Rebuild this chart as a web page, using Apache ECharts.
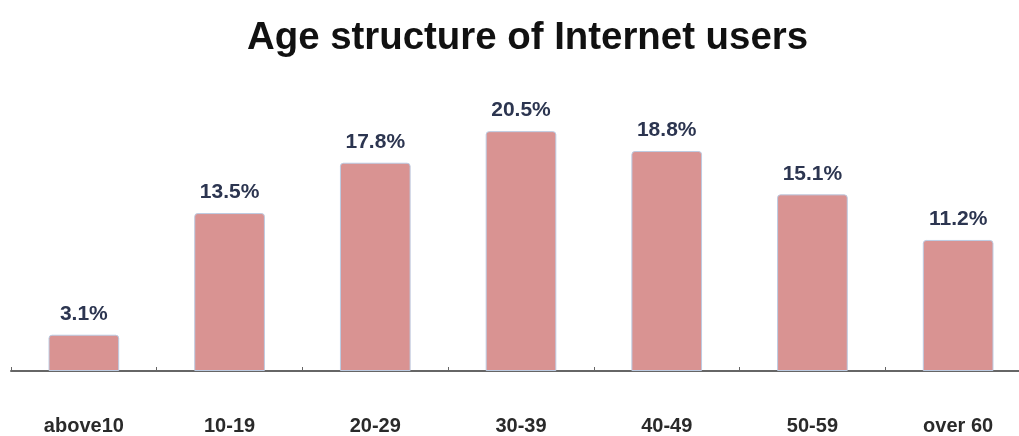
<!DOCTYPE html>
<html><head><meta charset="utf-8">
<script src="https://cdn.jsdelivr.net/npm/echarts@6/dist/echarts.min.js"></script>
<style>html,body{margin:0;padding:0;background:#fff;overflow:hidden;width:1019px;height:436px}#c{width:1040px;height:436px}</style>
</head><body><div id="c"></div>
<script>
const categories = ['above10','10-19','20-29','30-39','40-49','50-59','over 60'];
const values = [3.1, 13.5, 17.8, 20.5, 18.8, 15.1, 11.2];
const labels = ['3.1%','13.5%','17.8%','20.5%','18.8%','15.1%','11.2%'];

const chart = echarts.init(document.getElementById('c'));
chart.setOption({
  animation: false,
  backgroundColor: '#fff',
  title: {
    text: 'Age structure of Internet users',
    left: 242, top: 14,
    textStyle: {fontFamily: 'Liberation Sans, Arial, sans-serif', fontSize: 38.4, fontWeight: 'bold', color: '#111'}
  },
  grid: {left: 11, right: 9, top: 78.5, height: 292.5, containLabel: false},
  xAxis: {
    type: 'category', data: categories,
    axisLine: {lineStyle: {color: '#666', width: 2}},
    axisTick: {show: true, inside: true, length: 4, lineStyle: {color: '#666'}},
    axisLabel: {margin: 45, fontFamily: 'Liberation Sans, Arial, sans-serif', fontSize: 20, fontWeight: 'bold', color: '#2a2a2a'}
  },
  yAxis: {type: 'value', min: 0, max: 25, show: false, splitLine: {show: false}},
  series: [{
    type: 'bar', data: values, barWidth: '48.5%',
    itemStyle: {color: '#d99392', borderColor: '#bccbe2', borderWidth: 1, borderRadius: [3,3,0,0]},
    label: {
      show: true, position: 'top', distance: 10,
      formatter: p => labels[p.dataIndex],
      fontFamily: 'Liberation Sans, Arial, sans-serif', fontSize: 21, fontWeight: 'bold', color: '#2c3550'
    }
  }]
});
</script></body></html>
